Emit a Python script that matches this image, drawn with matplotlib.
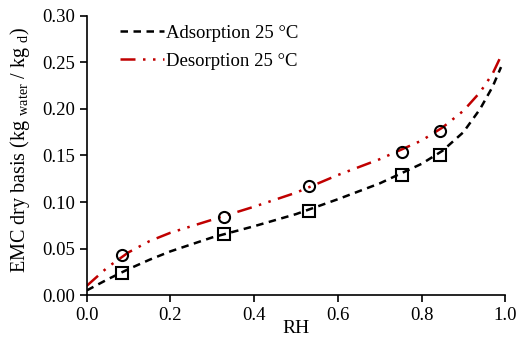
import matplotlib.pyplot as plt
import numpy as np

plt.rcParams['font.family'] = ['Liberation Serif', 'DejaVu Serif']
plt.rcParams['mathtext.fontset'] = 'custom'
plt.rcParams['mathtext.rm'] = 'Liberation Serif'
plt.rcParams['mathtext.it'] = 'Liberation Serif:italic'

# Experimental points
rh_exp = [0.084, 0.328, 0.531, 0.754, 0.845]
ads_exp = [0.0235, 0.0655, 0.090, 0.129, 0.1505]
des_exp = [0.043, 0.084, 0.117, 0.154, 0.176]

# Fitted curves
rh_fit = [0.0, 0.05, 0.1, 0.15, 0.2, 0.3, 0.4, 0.5, 0.6, 0.7, 0.8, 0.85, 0.9, 0.94, 0.97, 0.99]
ads_fit = [0.005, 0.017, 0.028, 0.038, 0.047, 0.062, 0.074, 0.087, 0.103, 0.120, 0.141, 0.155, 0.175, 0.200, 0.224, 0.245]
des_fit = [0.010, 0.030, 0.046, 0.058, 0.067, 0.081, 0.095, 0.110, 0.129, 0.146, 0.166, 0.180, 0.198, 0.218, 0.238, 0.257]

fig = plt.figure(figsize=(5.23, 3.38), dpi=100)
ax = fig.add_axes([0.166, 0.127, 0.8, 0.826])

ax.plot(rh_fit, ads_fit, color='black', lw=1.8, ls=(0, (3, 2.2)), label='Adsorption 25 °C')
ax.plot(rh_fit, des_fit, color='#C00000', lw=1.8, ls=(0, (6, 3, 1, 3, 1, 3)), label='Desorption 25 °C')
ax.plot(rh_exp, ads_exp, 's', mfc='none', mec='black', mew=1.5, ms=8, ls='none')
ax.plot(rh_exp, des_exp, 'o', mfc='none', mec='black', mew=1.5, ms=8, ls='none')

ax.set_xlim(0, 1.0)
ax.set_ylim(0, 0.30)
ax.set_xticks(np.arange(0, 1.01, 0.2))
ax.set_yticks(np.arange(0, 0.301, 0.05))
ax.xaxis.set_major_formatter(plt.FormatStrFormatter('%.1f'))
ax.yaxis.set_major_formatter(plt.FormatStrFormatter('%.2f'))
ax.tick_params(labelsize=13.5, direction='out', length=5, width=1.2)
for s in ['top', 'right']:
    ax.spines[s].set_visible(False)
for s in ['left', 'bottom']:
    ax.spines[s].set_linewidth(1.2)

ax.set_xlabel('RH', fontsize=14)
ax.xaxis.set_label_coords(0.5, -0.09)
ax.set_ylabel(r'EMC dry basis (kg $_{\mathrm{water}}$ / kg $_{\mathrm{d}}$)', fontsize=14.5)
ax.yaxis.set_label_coords(-0.13, 0.52)

ax.legend(loc='upper left', bbox_to_anchor=(0.04, 1.03), frameon=False, fontsize=13.5,
          handlelength=2.3, handletextpad=0.15, labelspacing=0.6)

fig.savefig('out.png', dpi=100)
